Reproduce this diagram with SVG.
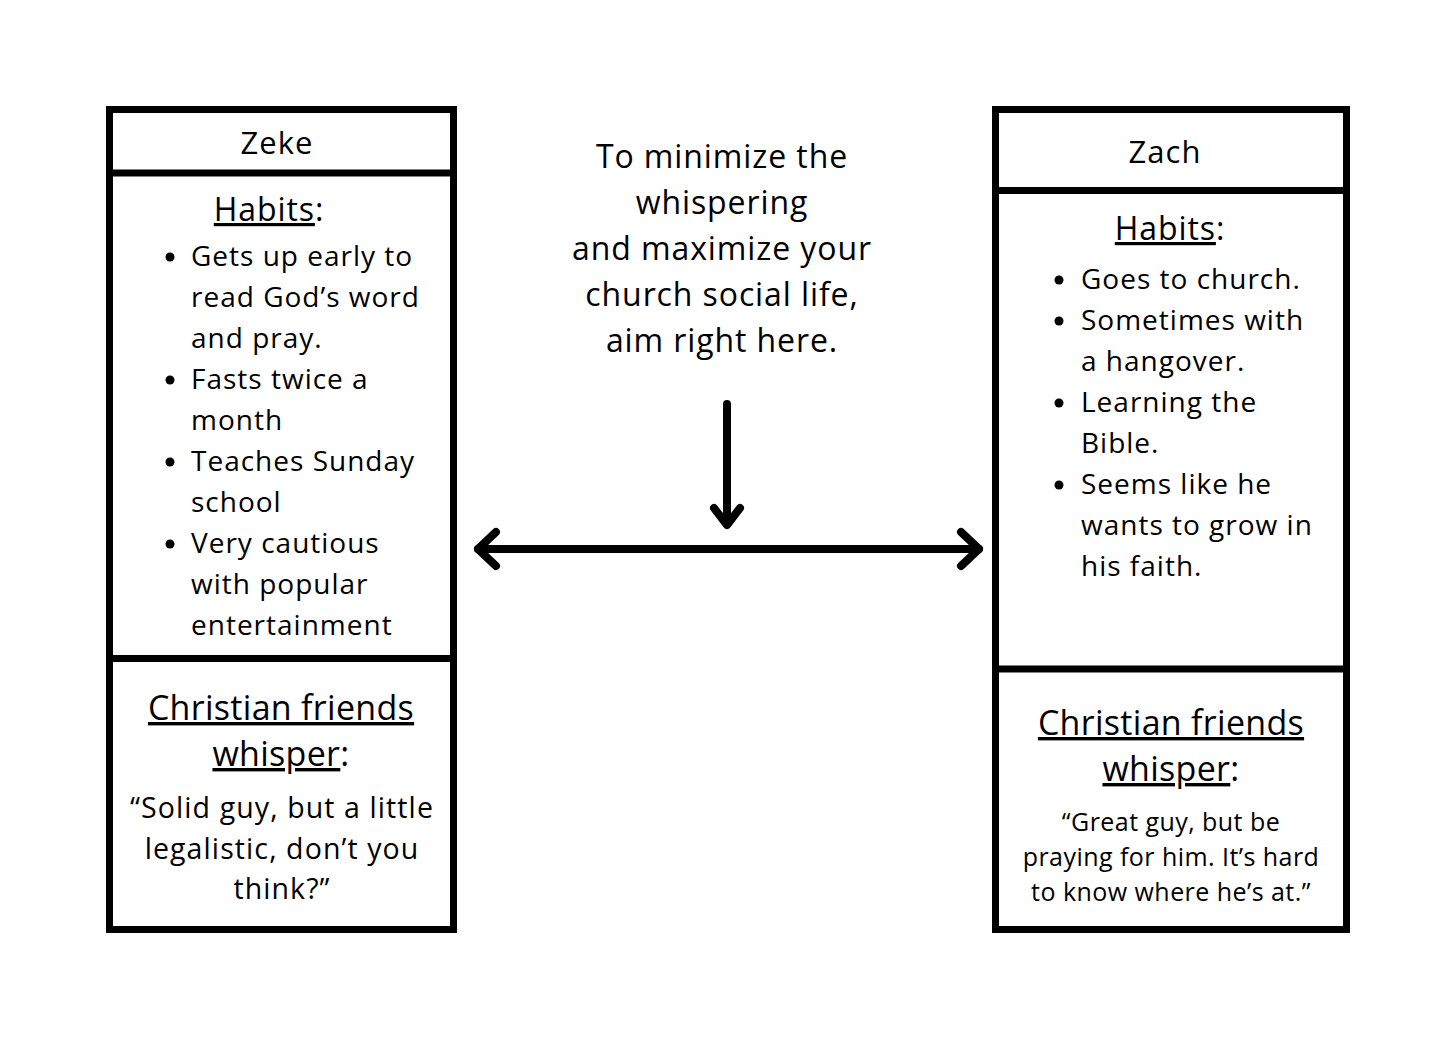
<svg xmlns="http://www.w3.org/2000/svg" width="1456" height="1058" viewBox="0 0 1456 1058">
<style>
text{font-family:"Open Sans","Noto Sans","Liberation Sans",sans-serif;fill:#000}
.c{text-anchor:middle}
.u{text-decoration:underline}
.box{fill:#fff;stroke:#000;stroke-width:7}
.div{stroke:#000;stroke-width:7}
.conn{stroke:#000;stroke-width:8;stroke-linecap:round;stroke-linejoin:round;fill:none}
.name{font-size:31px;letter-spacing:1px}
.hd{font-size:32px;letter-spacing:0.9px}
.li{font-size:28px;letter-spacing:1px}
.wh{font-size:34px;letter-spacing:0.3px}
.q1{font-size:28.5px;letter-spacing:1.1px}
.q2{font-size:25px;letter-spacing:0.45px}
</style>
<rect width="1456" height="1058" fill="#fff"/>
<g id="zeke">
<rect class="box" x="109.5" y="109.5" width="344" height="820"/>
<line class="div" x1="109" y1="173" x2="454" y2="173"/>
<line class="div" x1="109" y1="658.5" x2="454" y2="658.5"/>
<text class="c name" x="277" y="154">Zeke</text>
<text class="c hd" x="269" y="221"><tspan class="u">Habits</tspan>:</text>
<g class="li">
<circle cx="170" cy="257" r="4.5"/>
<circle cx="170" cy="380" r="4.5"/>
<circle cx="170" cy="462" r="4.5"/>
<circle cx="170" cy="544" r="4.5"/>
<text x="191" y="266">Gets up early to</text>
<text x="191" y="307">read God’s word</text>
<text x="191" y="348">and pray.</text>
<text x="191" y="389">Fasts twice a</text>
<text x="191" y="430">month</text>
<text x="191" y="471">Teaches Sunday</text>
<text x="191" y="512">school</text>
<text x="191" y="553">Very cautious</text>
<text x="191" y="594">with popular</text>
<text x="191" y="635">entertainment</text>
</g>
<text class="c wh" x="281" y="720"><tspan class="u">Christian friends</tspan></text>
<text class="c wh" x="281" y="766"><tspan class="u">whisper</tspan>:</text>
<text class="c q1" x="282" y="818">“Solid guy, but a little</text>
<text class="c q1" x="282" y="859">legalistic, don’t you</text>
<text class="c q1" x="282" y="899">think?”</text>
</g>
<g id="zach">
<rect class="box" x="995.5" y="109.5" width="351" height="820"/>
<line class="div" x1="995" y1="190.5" x2="1347" y2="190.5"/>
<line class="div" x1="995" y1="669" x2="1347" y2="669"/>
<text class="c name" x="1165" y="163">Zach</text>
<text class="c hd" x="1170" y="240"><tspan class="u">Habits</tspan>:</text>
<g class="li">
<circle cx="1059" cy="280" r="4.5"/>
<circle cx="1059" cy="321" r="4.5"/>
<circle cx="1059" cy="403" r="4.5"/>
<circle cx="1059" cy="485" r="4.5"/>
<text x="1081" y="289">Goes to church.</text>
<text x="1081" y="330">Sometimes with</text>
<text x="1081" y="371">a hangover.</text>
<text x="1081" y="412">Learning the</text>
<text x="1081" y="453">Bible.</text>
<text x="1081" y="494">Seems like he</text>
<text x="1081" y="535">wants to grow in</text>
<text x="1081" y="576">his faith.</text>
</g>
<text class="c wh" x="1171" y="735"><tspan class="u">Christian friends</tspan></text>
<text class="c wh" x="1171" y="781"><tspan class="u">whisper</tspan>:</text>
<text class="c q2" x="1171" y="831">“Great guy, but be</text>
<text class="c q2" x="1171" y="866">praying for him. It’s hard</text>
<text class="c q2" x="1171" y="901">to know where he’s at.”</text>
</g>
<g id="note">
<text class="c hd" x="722" y="168">To minimize the</text>
<text class="c hd" x="722" y="214">whispering</text>
<text class="c hd" x="722" y="260">and maximize your</text>
<text class="c hd" x="722" y="306">church social life,</text>
<text class="c hd" x="722" y="352">aim right here.</text>
</g>
<g id="connectors">
<line class="conn" x1="727" y1="404" x2="727" y2="524"/>
<polyline class="conn" points="714,508 727,525 740,508"/>
<line class="conn" x1="478" y1="549" x2="979" y2="549"/>
<polyline class="conn" points="496,532 478,549 496,566"/>
<polyline class="conn" points="961,532 979,549 961,566"/>
</g>
</svg>
